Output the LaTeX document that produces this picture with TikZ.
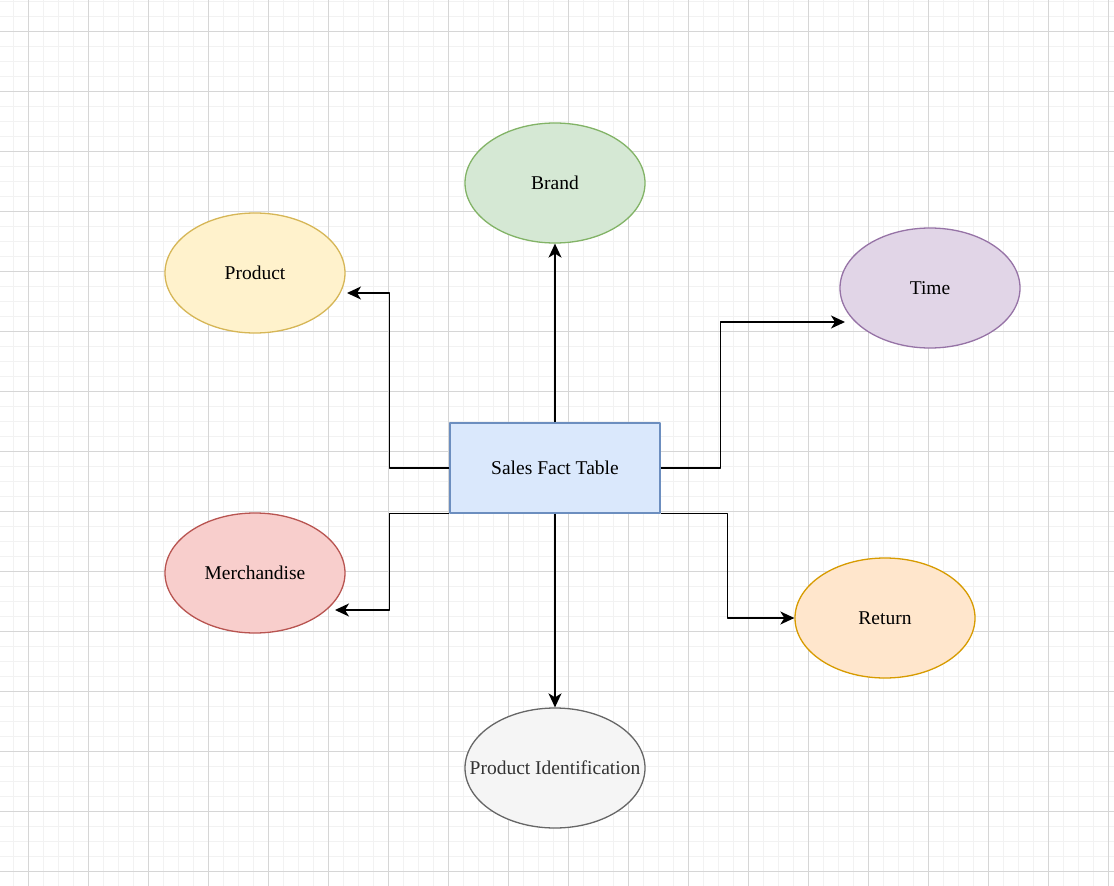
\documentclass[tikz,border=0pt]{standalone}
\usepackage{fontspec}
\setmainfont{Liberation Serif}
\usetikzlibrary{shapes.geometric,arrows.meta,positioning}

\definecolor{gridminor}{HTML}{F2F2F2}
\definecolor{gridmajor}{HTML}{D6D6D6}
\definecolor{factfill}{HTML}{DAE8FC}
\definecolor{factline}{HTML}{6C8EBF}
\definecolor{greenfill}{HTML}{D5E8D4}
\definecolor{greenline}{HTML}{82B366}
\definecolor{yellowfill}{HTML}{FFF2CC}
\definecolor{yellowline}{HTML}{D6B656}
\definecolor{purplefill}{HTML}{E1D5E7}
\definecolor{purpleline}{HTML}{9673A6}
\definecolor{redfill}{HTML}{F8CECC}
\definecolor{redline}{HTML}{B85450}
\definecolor{orangefill}{HTML}{FFE6CC}
\definecolor{orangeline}{HTML}{D79B00}
\definecolor{greyfill}{HTML}{F5F5F5}
\definecolor{greyline}{HTML}{666666}
\definecolor{greytext}{HTML}{333333}

\begin{document}
\begin{tikzpicture}[x=1pt,y=-1pt,line join=round,
	dim/.style={ellipse,draw,line width=1.3pt,minimum width=180pt,minimum height=120pt,inner sep=0pt,font=\fontsize{19.5}{22}\selectfont},
	fact/.style={rectangle,draw=factline,fill=factfill,line width=1.3pt,minimum width=210pt,minimum height=90pt,font=\fontsize{19.5}{22}\selectfont},
	link/.style={line width=1.5pt,-{Stealth[length=14pt,width=13pt,inset=4pt]}}]
		\useasboundingbox (0,0) rectangle (1114,886);
		\fill[white] (0,0) rectangle (1114,886);
		% grid
		\foreach \x in {13,28,...,1114}{\draw[gridminor,line width=1pt] (\x,0)--(\x,886);}
		\foreach \y in {1,16,...,886}{\draw[gridminor,line width=1pt] (0,\y)--(1114,\y);}
		\foreach \x in {28,88,...,1114}{\draw[gridmajor,line width=1pt] (\x,0)--(\x,886);}
		\foreach \y in {31,91,...,886}{\draw[gridmajor,line width=1pt] (0,\y)--(1114,\y);}
		% nodes
		\node[fact] (sales) at (555,468) {Sales Fact Table};
		\node[dim,draw=greenline,fill=greenfill] (brand) at (555,183) {Brand};
		\node[dim,draw=yellowline,fill=yellowfill] (product) at (255,273) {Product};
		\node[dim,draw=purpleline,fill=purplefill] (time) at (930,288) {Time};
		\node[dim,draw=redline,fill=redfill] (merch) at (255,573) {Merchandise};
		\node[dim,draw=orangeline,fill=orangefill] (return) at (885,618) {Return};
		\node[dim,draw=greyline,fill=greyfill,text=greytext] (prodid) at (555,768) {\makebox[0pt]{Product Identification}};
		\coordinate (productin) at (347,293);
		\coordinate (timein) at (845,322);
		\coordinate (merchin) at (335,610);
		% links
		\draw[link] (sales.north)--(brand.south);
		\draw[link] (sales.west)--++(-60,0) |- (productin);
		\draw[link] (sales.east)--++(60,0) |- (timein);
		\draw[link] (sales.south west)--++(-60,0) |- (merchin);
		\draw[link] (sales.south east)--++(67,0) |- (return.west);
		\draw[link] (sales.south)--(prodid.north);
\end{tikzpicture}
\end{document}
